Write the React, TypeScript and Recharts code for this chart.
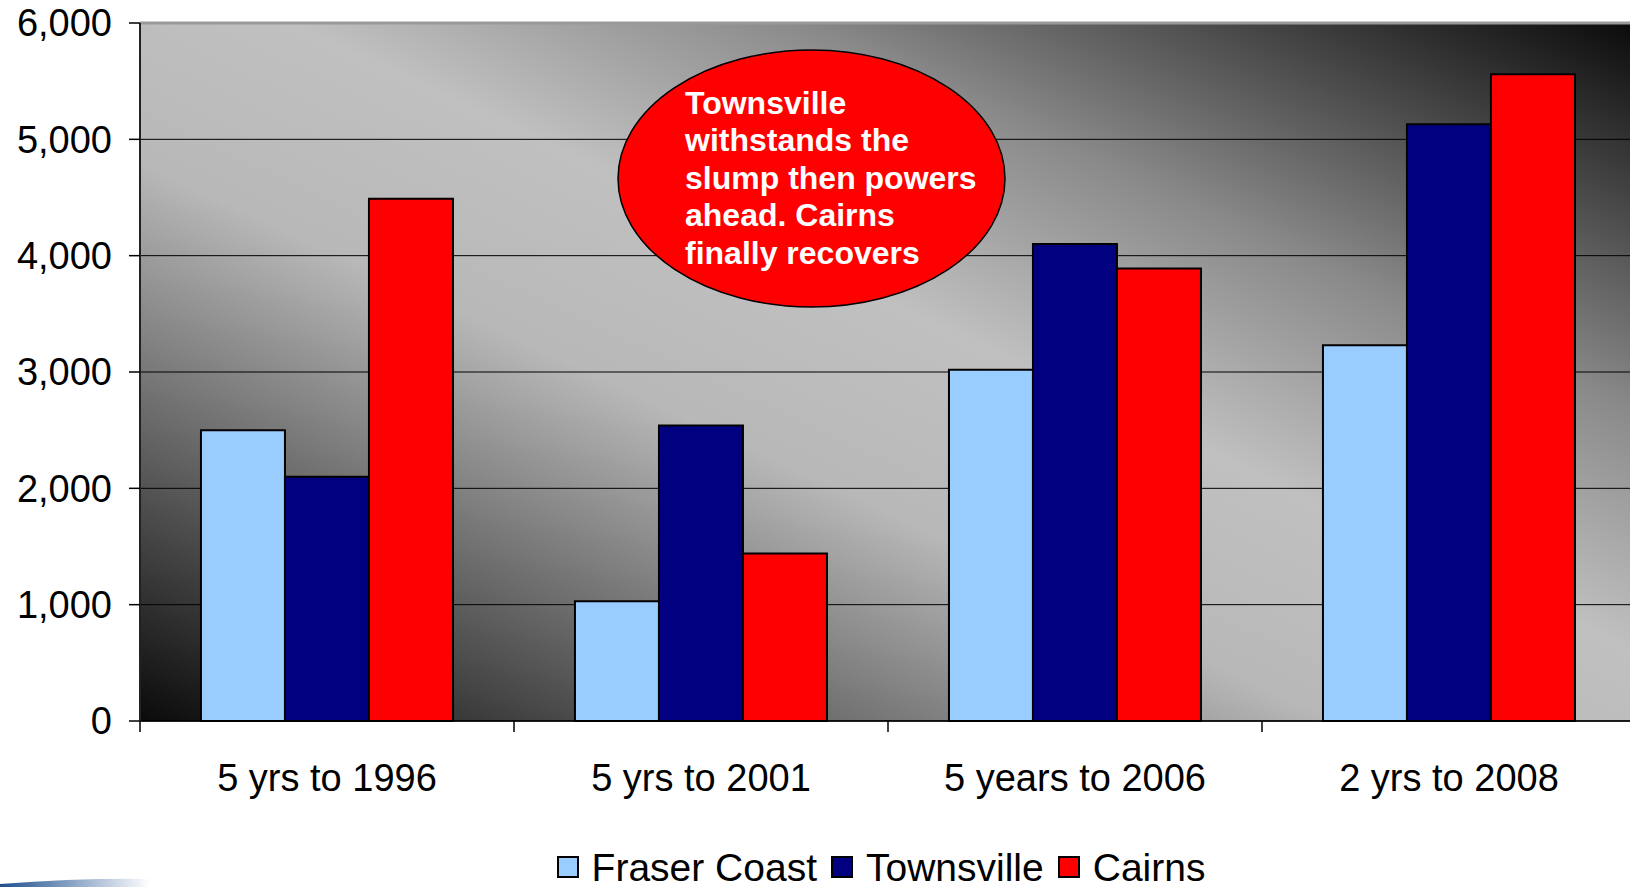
import { Bar, BarChart, CartesianGrid, Legend, ReferenceLine, XAxis, YAxis } from "recharts";

const periods = ["5 yrs to 1996", "5 yrs to 2001", "5 years to 2006", "2 yrs to 2008"];
const fraserCoast = [2500, 1030, 3020, 3230];
const townsville = [2100, 2540, 4100, 5130];
const cairns = [4490, 1440, 3890, 5560];
const yTicks = [0, 1000, 2000, 3000, 4000, 5000, 6000];

const series = [
  { key: "fraser", name: "Fraser Coast", color: "#99ccff" },
  { key: "townsville", name: "Townsville", color: "#000080" },
  { key: "cairns", name: "Cairns", color: "#ff0000" },
];

const data = periods.map((period, i) => ({
  period,
  fraser: fraserCoast[i],
  townsville: townsville[i],
  cairns: cairns[i],
}));

const CHART_W = 1640;
const CHART_H = 887;
const PLOT_LEFT = 140;
const PLOT_RIGHT = 1636;
const band = (PLOT_RIGHT - PLOT_LEFT) / periods.length;
const font = "'Liberation Sans', Arial, sans-serif";

function PeriodTick(props: any) {
  const { x, y, payload } = props;
  return (
    <g>
      <line x1={x - band / 2} x2={x - band / 2} y1={y - 11} y2={y} stroke="#000" strokeWidth={1.5} />
      <text x={x} y={y + 59} textAnchor="middle" fontSize={38} fill="#000" fontFamily={font}>
        {payload.value}
      </text>
    </g>
  );
}

function LegendBox() {
  return (
    <div
      style={{
        height: 66,
        display: "flex",
        justifyContent: "center",
        alignItems: "center",
        paddingTop: 26,
        boxSizing: "border-box",
        fontFamily: font,
        fontSize: 39,
        lineHeight: 1,
        color: "#000",
      }}
    >
      {series.map((s) => (
        <span key={s.key} style={{ display: "flex", alignItems: "center", marginRight: 14 }}>
          <span
            style={{
              width: 18,
              height: 18,
              background: s.color,
              border: "2.5px solid #000",
              marginRight: 13,
              display: "inline-block",
            }}
          />
          {s.name}
        </span>
      ))}
    </div>
  );
}

export default function App() {
  return (
    <div
      style={{
        position: "absolute",
        left: 0,
        top: 0,
        width: 1630,
        height: 887,
        overflow: "hidden",
        background: "#fff",
        fontFamily: font,
      }}
    >
      <BarChart
        width={CHART_W}
        height={CHART_H}
        data={data}
        margin={{ top: 23, right: CHART_W - PLOT_RIGHT, bottom: 0, left: 0 }}
        barCategoryGap="16.3%"
        barGap={0}
      >
        <defs>
          <linearGradient id="plotBg" x1="0" y1="1" x2="1" y2="0">
            <stop offset="0%" stopColor="#0a0a0a" />
            <stop offset="22%" stopColor="#6a6a6a" />
            <stop offset="40%" stopColor="#b8b8b8" />
            <stop offset="55%" stopColor="#c0c0c0" />
            <stop offset="72%" stopColor="#8a8a8a" />
            <stop offset="100%" stopColor="#0a0a0a" />
          </linearGradient>
        </defs>
        <CartesianGrid vertical={false} stroke="#000" strokeWidth={1} fill="url(#plotBg)" fillOpacity={1} />
        <XAxis
          dataKey="period"
          height={100}
          tickSize={11}
          tickMargin={0}
          tickLine={false}
          axisLine={{ stroke: "#000", strokeWidth: 1.5 }}
          tick={<PeriodTick />}
          interval={0}
        />
        <YAxis
          width={PLOT_LEFT}
          domain={[0, 6000]}
          ticks={yTicks}
          tickSize={11}
          tickMargin={17}
          tickFormatter={(v: number) => v.toLocaleString("en-US")}
          tick={{ fontSize: 38, fill: "#000", fontFamily: font }}
          tickLine={{ stroke: "#000", strokeWidth: 1.5 }}
          axisLine={{ stroke: "#222", strokeWidth: 2 }}
        />
        <ReferenceLine y={6000} stroke="#9a9a9a" strokeWidth={3} />
        <Legend
          verticalAlign="bottom"
          content={<LegendBox />}
          wrapperStyle={{ left: PLOT_LEFT, width: PLOT_RIGHT - PLOT_LEFT }}
        />
        {series.map((s) => (
          <Bar
            key={s.key}
            dataKey={s.key}
            name={s.name}
            fill={s.color}
            stroke="#000"
            strokeWidth={2}
            isAnimationActive={false}
          />
        ))}
      </BarChart>
      <svg
        width={1630}
        height={887}
        style={{ position: "absolute", left: 0, top: 0, pointerEvents: "none" }}
      >
        <ellipse cx={811.5} cy={178.5} rx={193.5} ry={128.5} fill="#ff0000" stroke="#000" strokeWidth={1.5} />
        <text x={685} fill="#fff" fontSize={32} fontWeight="bold" fontFamily={font}>
          <tspan x={685} y={114}>Townsville</tspan>
          <tspan x={685} y={151}>withstands the</tspan>
          <tspan x={685} y={189}>slump then powers</tspan>
          <tspan x={685} y={226}>ahead. Cairns</tspan>
          <tspan x={685} y={264}>finally recovers</tspan>
        </text>
        <defs>
          <linearGradient id="swoosh" x1="0" y1="0" x2="1" y2="0">
            <stop offset="0%" stopColor="#1f4f8f" />
            <stop offset="100%" stopColor="#1f4f8f" stopOpacity={0} />
          </linearGradient>
        </defs>
        <path d="M0 884 Q 80 878 150 879 L 150 887 L 0 887 Z" fill="url(#swoosh)" />
      </svg>
    </div>
  );
}
